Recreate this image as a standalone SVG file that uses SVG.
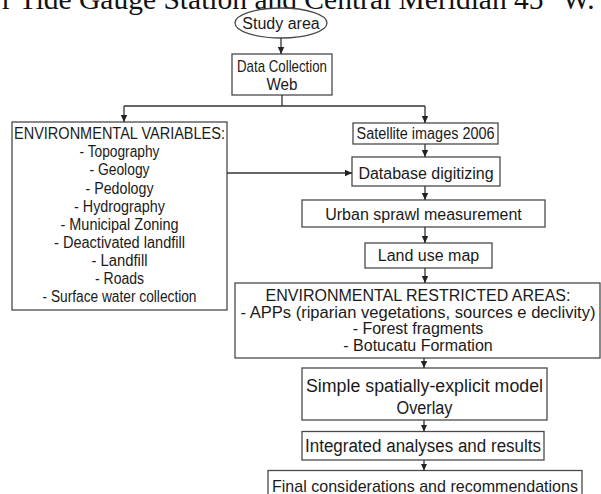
<svg xmlns="http://www.w3.org/2000/svg" width="601" height="494" viewBox="0 0 601 494">
<defs>
<style>
.box{fill:#fff;stroke:#4a4a4a;stroke-width:1.3}
.t{font-family:"Liberation Sans",Arial,sans-serif;font-size:16px;fill:#1a1a1a;text-anchor:middle}
.l{font-size:16px}
.r{font-size:16px}
.b{font-size:17.6px}
.c{fill:none;stroke:#333;stroke-width:1.3}
.title{font-family:"Liberation Serif","Times New Roman",serif;font-size:29.5px;fill:#111}
</style>
<marker id="ah" markerWidth="8" markerHeight="8" refX="7" refY="4" orient="auto" markerUnits="userSpaceOnUse">
<path d="M0,0.8 L7,4 L0,7.2 Z" fill="#222"/>
</marker>
</defs>
<rect width="601" height="494" fill="#fff"/>
<text class="title" x="2" y="9">r Tide Gauge Station and Central Meridian 45° W.</text>

<g id="study-area">
<ellipse class="box" cx="281" cy="23" rx="46" ry="15"/>
<text class="t" x="281" y="29">Study area</text>
</g>
<g id="data-collection">
<rect class="box" x="232" y="54" width="100" height="41"/>
<text class="t" x="282" y="72" textLength="90" lengthAdjust="spacingAndGlyphs" style="font-size:17px">Data Collection</text>
<text class="t" x="282" y="90" textLength="31" lengthAdjust="spacingAndGlyphs" style="font-size:17px">Web</text>
</g>
<g id="env-variables">
<rect class="box" x="12" y="122" width="215" height="188"/>
<text class="t l" x="119.5" y="139" textLength="211" lengthAdjust="spacingAndGlyphs">ENVIRONMENTAL VARIABLES:</text>
<text class="t l" x="119.5" y="157.2" textLength="80" lengthAdjust="spacingAndGlyphs">- Topography</text>
<text class="t l" x="119.5" y="175.3" textLength="60" lengthAdjust="spacingAndGlyphs">- Geology</text>
<text class="t l" x="119.5" y="193.5" textLength="68" lengthAdjust="spacingAndGlyphs">- Pedology</text>
<text class="t l" x="119.5" y="211.6" textLength="91" lengthAdjust="spacingAndGlyphs">- Hydrography</text>
<text class="t l" x="119.5" y="229.8" textLength="118" lengthAdjust="spacingAndGlyphs">- Municipal Zoning</text>
<text class="t l" x="119.5" y="247.9" textLength="131" lengthAdjust="spacingAndGlyphs">- Deactivated landfill</text>
<text class="t l" x="119.5" y="266.1" textLength="56" lengthAdjust="spacingAndGlyphs">- Landfill</text>
<text class="t l" x="119.5" y="284.2" textLength="49" lengthAdjust="spacingAndGlyphs">- Roads</text>
<text class="t l" x="119.5" y="302.4" textLength="154" lengthAdjust="spacingAndGlyphs">- Surface water collection</text>
</g>
<g id="satellite">
<rect class="box" x="353" y="123" width="145" height="21"/>
<text class="t" x="425.5" y="139" textLength="138" lengthAdjust="spacingAndGlyphs">Satellite images 2006</text>
</g>
<g id="database">
<rect class="box" x="352" y="157" width="148" height="29"/>
<text class="t" x="426" y="179">Database digitizing</text>
</g>
<g id="urban-sprawl">
<rect class="box" x="302" y="200" width="243" height="27"/>
<text class="t" x="423.5" y="219.5">Urban sprawl measurement</text>
</g>
<g id="land-use">
<rect class="box" x="365" y="243" width="127" height="25"/>
<text class="t" x="428.5" y="261">Land use map</text>
</g>
<g id="restricted-areas">
<rect class="box" x="235" y="283" width="365" height="75"/>
<text class="t r" x="418" y="301">ENVIRONMENTAL RESTRICTED AREAS:</text>
<text class="t r" x="418" y="317.5" textLength="355" lengthAdjust="spacingAndGlyphs">- APPs (riparian vegetations, sources e declivity)</text>
<text class="t r" x="418" y="334">- Forest fragments</text>
<text class="t r" x="418" y="350.5">- Botucatu Formation</text>
</g>
<g id="model">
<rect class="box" x="302" y="368" width="245" height="52"/>
<text class="t b" x="424.5" y="392" textLength="237" lengthAdjust="spacingAndGlyphs">Simple spatially-explicit model</text>
<text class="t b" x="424.5" y="414" textLength="56" lengthAdjust="spacingAndGlyphs">Overlay</text>
</g>
<g id="integrated">
<rect class="box" x="302" y="431.5" width="242" height="28.5"/>
<text class="t b" x="423" y="452" textLength="236" lengthAdjust="spacingAndGlyphs">Integrated analyses and results</text>
</g>
<g id="final">
<rect class="box" x="268" y="470.5" width="314" height="40"/>
<text class="t" x="425" y="491.5" textLength="306" lengthAdjust="spacingAndGlyphs" style="font-size:16.6px">Final considerations and recommendations</text>
</g>

<g id="connectors">
<line class="c" x1="281" y1="38" x2="281" y2="54" marker-end="url(#ah)"/>
<line class="c" x1="282" y1="95" x2="282" y2="106" />
<polyline class="c" points="124,106 425,106"/>
<line class="c" x1="124" y1="106" x2="124" y2="122" marker-end="url(#ah)"/>
<line class="c" x1="425" y1="106" x2="425" y2="123" marker-end="url(#ah)"/>
<line class="c" x1="425" y1="144" x2="425" y2="157" marker-end="url(#ah)"/>
<line class="c" x1="227" y1="173" x2="352" y2="173" marker-end="url(#ah)"/>
<line class="c" x1="425" y1="186" x2="425" y2="200" marker-end="url(#ah)"/>
<line class="c" x1="425" y1="227" x2="425" y2="243" marker-end="url(#ah)"/>
<line class="c" x1="425" y1="268" x2="425" y2="283" marker-end="url(#ah)"/>
<line class="c" x1="424" y1="358" x2="424" y2="368" marker-end="url(#ah)"/>
<line class="c" x1="424" y1="420" x2="424" y2="431.5" marker-end="url(#ah)"/>
<line class="c" x1="424" y1="460" x2="424" y2="470.5" marker-end="url(#ah)"/>
</g>
</svg>
